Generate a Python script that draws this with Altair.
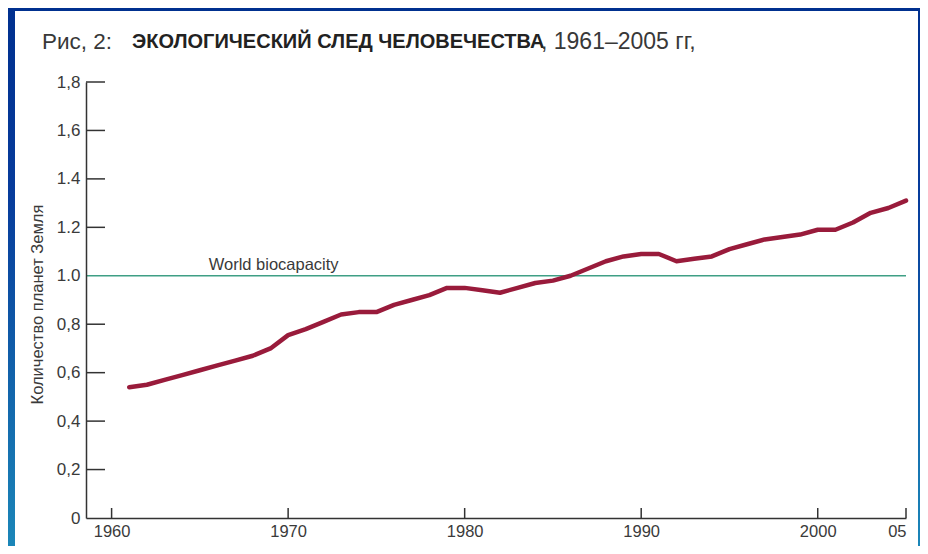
import altair as alt
import pandas as pd

years = list(range(1961, 2006))
footprint = [0.54, 0.55, 0.57, 0.59, 0.61, 0.63, 0.65, 0.67, 0.70, 0.755,
             0.78, 0.81, 0.84, 0.85, 0.85, 0.88, 0.90, 0.92, 0.95, 0.95,
             0.94, 0.93, 0.95, 0.97, 0.98, 1.00, 1.03, 1.06, 1.08, 1.09,
             1.09, 1.06, 1.07, 1.08, 1.11, 1.13, 1.15, 1.16, 1.17, 1.19,
             1.19, 1.22, 1.26, 1.28, 1.31]
biocapacity = 1.0
bio_label = "World biocapacity"
bio_label_year = 1965.5

y_tick_values = [0, 0.2, 0.4, 0.6, 0.8, 1.0, 1.2, 1.4, 1.6, 1.8]
y_tick_labels = ["0", "0,2", "0,4", "0,6", "0,8", "1.0", "1.2", "1.4", "1,6", "1,8"]
x_tick_values = [1960, 1970, 1980, 1990, 2000, 2005]
x_tick_labels = ["1960", "1970", "1980", "1990", "2000", "05"]

title_parts = ["Рис, 2: ", "ЭКОЛОГИЧЕСКИЙ СЛЕД ЧЕЛОВЕЧЕСТВА", ", 1961–2005 гг,"]
y_title = "Количество планет Земля"

W, H = 820, 436
PL, PT, PR, PB = 78, 74, 14, 28
FONT = "Liberation Sans, Arial, sans-serif"

df = pd.DataFrame({"year": years, "value": footprint})

xscale = alt.Scale(domain=[1958.55, 2005], nice=False, zero=False)
yscale = alt.Scale(domain=[0, 1.8], nice=False)

y_expr = "[" + ",".join(f"'{l}'" for l in y_tick_labels) + "][round(datum.value*5)]"
x_expr = ("[" + ",".join(f"'{l}'" for l in x_tick_labels) + "][indexof(["
          + ",".join(str(v) for v in x_tick_values) + "], datum.value)]")

one = alt.Data(values=[{"a": 1}])

bg = alt.Chart(one).mark_rect(
    color=alt.Gradient(
        gradient="linear",
        stops=[alt.GradientStop(color="#00308f", offset=0),
               alt.GradientStop(color="#073c9c", offset=0.35),
               alt.GradientStop(color="#1b86b8", offset=1)],
        x1=0, x2=0, y1=0, y2=1),
).encode(x=alt.value(-PL), x2=alt.value(W + PR), y=alt.value(-PT), y2=alt.value(H + PB))

panel = alt.Chart(one).mark_rect(color="white").encode(
    x=alt.value(-71), x2=alt.value(W + PR - 2), y=alt.value(-71), y2=alt.value(H + PB))

line = alt.Chart(df).mark_line(color="#991b3b", strokeWidth=4.5, strokeCap="round",
                               strokeJoin="round").encode(
    x=alt.X("year:Q", scale=xscale,
            axis=alt.Axis(values=x_tick_values, labelExpr=x_expr, title=None, ticks=False,
                          grid=False, domainColor="#333", domainWidth=1.5,
                          labelFont=FONT, labelFontSize=16.5, labelColor="#3a3a3a",
                          labelPadding=5, zindex=1)),
    y=alt.Y("value:Q", scale=yscale,
            axis=alt.Axis(values=y_tick_values, labelExpr=y_expr, title=y_title, ticks=False,
                          grid=False, domainColor="#333", domainWidth=1.5,
                          labelFont=FONT, labelFontSize=17, labelColor="#3a3a3a",
                          labelPadding=6, titleFont=FONT, titleFontSize=16.5,
                          titleColor="#3a3a3a", titleFontWeight="normal",
                          titleX=-49, titleY=222, titleAngle=-90,
                          titleAlign="center", titleBaseline="middle", zindex=1)),
)

bio_df = pd.DataFrame({"v": [biocapacity], "t": [bio_label], "ly": [bio_label_year]})
bio = alt.Chart(bio_df).mark_rule(color="#3f9f85", strokeWidth=1.5).encode(
    y=alt.Y("v:Q", scale=yscale), x=alt.value(0), x2=alt.value(W))
bio_text = alt.Chart(bio_df).mark_text(align="left", baseline="alphabetic", dy=-6,
                                       font=FONT, fontSize=16.5, color="#3a3a3a").encode(
    x=alt.X("ly:Q", scale=xscale), y=alt.Y("v:Q", scale=yscale), text="t:N")

yt_df = pd.DataFrame({"v": [v for v in y_tick_values if v not in (0, 1.0)]})
yticks = alt.Chart(yt_df).mark_rule(color="#333", strokeWidth=1.5).encode(
    y=alt.Y("v:Q", scale=yscale), x=alt.value(0), x2=alt.value(19))

xt_df = pd.DataFrame({"v": x_tick_values})
xticks = alt.Chart(xt_df).mark_rule(color="#333", strokeWidth=1.5).encode(
    x=alt.X("v:Q", scale=xscale), y=alt.value(H), y2=alt.value(H - 10))

title_x = [-44, 46, 455]
title_w = ["normal", "bold", "normal"]
title_size = [22.5, 20, 23]
titles = []
for i, part in enumerate(title_parts):
    titles.append(
        alt.Chart(alt.Data(values=[{"t": part}])).mark_text(
            align="left", baseline="middle", font=FONT, fontSize=title_size[i],
            fontWeight=title_w[i], color="#383838" if i != 1 else "#222",
        ).encode(x=alt.value(title_x[i]), y=alt.value(-40), text="t:N")
    )

chart = alt.layer(bg, panel, bio, bio_text, yticks, xticks, line, *titles).properties(
    width=W, height=H,
    padding={"left": PL, "top": PT, "right": PR, "bottom": PB},
    autosize=alt.AutoSizeParams(type="none"),
).configure_view(stroke=None).configure(background="white")

chart.save("out.html", embed_options={"renderer": "svg", "actions": False})
